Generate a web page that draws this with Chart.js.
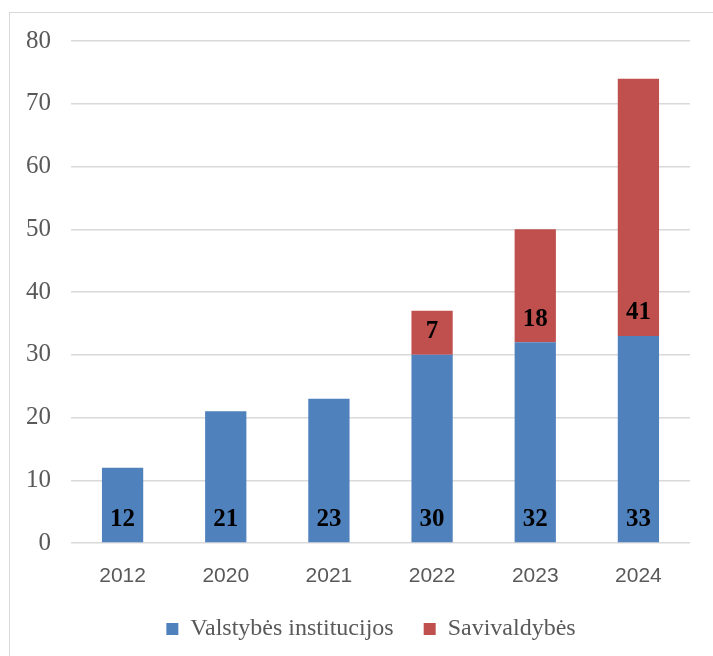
<!DOCTYPE html>
<html>
<head>
<meta charset="utf-8">
<script src="https://cdn.jsdelivr.net/npm/chart.js@4"></script>
<style>
  html, body { margin: 0; padding: 0; background: #fff; }
  #wrap { position: relative; width: 713px; height: 656px; }
  #frame { position: absolute; left: 9px; top: 12px; width: 720px; height: 660px; border: 1px solid #d9d9d9; box-sizing: border-box; }
  canvas { position: absolute; left: 0; top: 0; }
</style>
</head>
<body>
<div id="wrap">
  <div id="frame"></div>
  <canvas id="myChart" width="713" height="656"></canvas>
</div>
<script>
var years = ['2012', '2020', '2021', '2022', '2023', '2024'];
var valstybes = [12, 21, 23, 30, 32, 33];
var savivaldybes = [0, 0, 0, 7, 18, 41];

// labels drawn just above the base of each segment
var baseLabels = {
  id: 'baseLabels',
  afterLayout: function(chart) {
    // legend sits a bit right of centre in the original
    chart.legend.left += 52;
  },
  afterDatasetsDraw: function(chart) {
    var ctx = chart.ctx;
    ctx.save();
    ctx.font = 'bold 25px "Liberation Serif"';
    ctx.fillStyle = '#000';
    ctx.textAlign = 'center';
    ctx.textBaseline = 'middle';
    chart.data.datasets.forEach(function(ds, i) {
      var meta = chart.getDatasetMeta(i);
      meta.data.forEach(function(bar, j) {
        var v = ds.data[j];
        if (!v) return;
        ctx.fillText(String(v), bar.x, bar.base - 23);
      });
    });
    ctx.restore();
  }
};

var ctx = document.getElementById('myChart');
var myBarChart = new Chart(ctx, {
  type: 'bar',
  data: {
    labels: years,
    datasets: [
      { label: 'Valstybės institucijos', data: valstybes, backgroundColor: '#4f81bd', barPercentage: 0.4, categoryPercentage: 1 },
      { label: 'Savivaldybės', data: savivaldybes, backgroundColor: '#c0504d', barPercentage: 0.4, categoryPercentage: 1 }
    ]
  },
  options: {
    responsive: false,
    animation: false,
    devicePixelRatio: 1,
    layout: { padding: { left: 0, right: 23, top: 41, bottom: 5 } },
    plugins: {
      tooltip: { enabled: false },
      legend: {
        position: 'bottom',
        labels: {
          boxWidth: 12,
          boxHeight: 12,
          padding: 30,
          color: '#595959',
          font: { family: '"Liberation Serif"', size: 24 }
        }
      }
    },
    scales: {
      x: {
        stacked: true,
        grid: { display: false },
        border: { display: false },
        ticks: { color: '#595959', padding: 13, font: { family: '"Liberation Sans"', size: 21 } },
        afterFit: function(s) { s.height = 44; }
      },
      y: {
        stacked: true,
        min: 0,
        max: 80,
        ticks: { stepSize: 10, color: '#595959', padding: 20, font: { family: '"Liberation Serif"', size: 25 } },
        grid: { color: '#d9d9d9', lineWidth: 1.5, drawTicks: false },
        border: { display: false },
        afterFit: function(s) { s.width = 71; }
      }
    }
  },
  plugins: [baseLabels]
});
</script>
</body>
</html>
